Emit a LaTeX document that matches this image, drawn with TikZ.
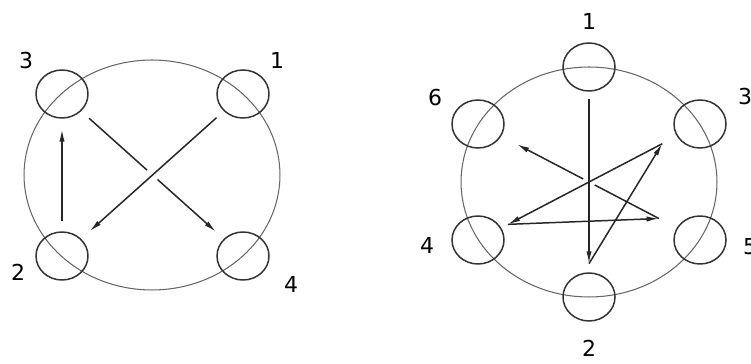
\documentclass[tikz,border=0pt]{standalone}
\usepackage{fontspec}
\setmainfont{DejaVu Sans}
\usetikzlibrary{arrows.meta,calc,shapes.geometric}

\begin{document}
\begin{tikzpicture}[
  x=0.02cm, y=-0.02cm,
  ring/.style={draw=black!60, line width=0.6pt, ellipse, minimum width=5.12cm, minimum height=4.6cm, inner sep=0pt},
  pin/.style={draw=black!80, line width=0.85pt, ellipse, minimum width=1.04cm, minimum height=0.96cm, inner sep=0pt},
  num/.style={font=\fontsize{12.5}{15}\selectfont, inner sep=0pt},
  arrow/.style={-{Latex[length=7pt,width=3pt]}, line width=0.85pt, draw=black!85}
]
\useasboundingbox (0,0) rectangle (751,364);
% left ring, four stations
\node[ring] (ringA) at (152,175) {};
\node[pin] (a1) at (243,94) {};
\node[pin] (a2) at (62,256) {};
\node[pin] (a3) at (62,94) {};
\node[pin] (a4) at (243,256) {};
\node[num] (ta1) at ([shift={(34,-33)}]a1) {1};
\node[num] (ta2) at ([shift={(-44,16)}]a2) {2};
\node[num] (ta3) at ([shift={(-36,-33)}]a3) {3};
\node[num] (ta4) at ([shift={(48,28)}]a4) {4};
\draw[arrow, shorten <=6pt, shorten >=6pt] (a3) -- (a4);
\fill[white] (ringA.center) circle (7);
\draw[arrow, shorten <=5.5pt, shorten >=6.5pt] (a1) -- (a2);
\draw[arrow, shorten <=6pt, shorten >=6pt] (a2) -- (a3);
% right ring, six stations
\node[ring] (ringB) at (589,182) {};
\node[pin] (b1) at (589,67) {};
\node[pin] (b2) at (589,297) {};
\node[pin] (b3) at (700,124) {};
\node[pin] (b4) at (478,240) {};
\node[pin] (b5) at (700,240) {};
\node[pin] (b6) at (478,124) {};
\node[num] (tb1) at ([shift={(0,-45)}]b1) {1};
\node[num] (tb2) at ([shift={(0,51)}]b2) {2};
\node[num] (tb3) at ([shift={(45,-27)}]b3) {3};
\node[num] (tb4) at ([shift={(-51,5)}]b4) {4};
\node[num] (tb5) at ([shift={(50,7)}]b5) {5};
\node[num] (tb6) at ([shift={(-43,-26)}]b6) {6};
\coordinate (q1) at ($(b1)!0.28!(ringB)$);
\coordinate (q2) at ($(b2)!0.29!(ringB)$);
\coordinate (q3) at ($(b3)!0.34!(ringB)$);
\coordinate (q4) at ($(b4)!0.27!(ringB)$);
\coordinate (q5) at ($(b5)!0.37!(ringB)$);
\coordinate (q6) at ($(b6)!0.35!(ringB)$);
\draw[arrow] (q5) -- (q6);
\fill[white] (ringB.center) circle (6.5);
\draw[arrow] (q1) -- (q2);
\draw[arrow] (q2) -- (q3);
\draw[arrow] (q3) -- (q4);
\draw[arrow] (q4) -- (q5);
\end{tikzpicture}
\end{document}
